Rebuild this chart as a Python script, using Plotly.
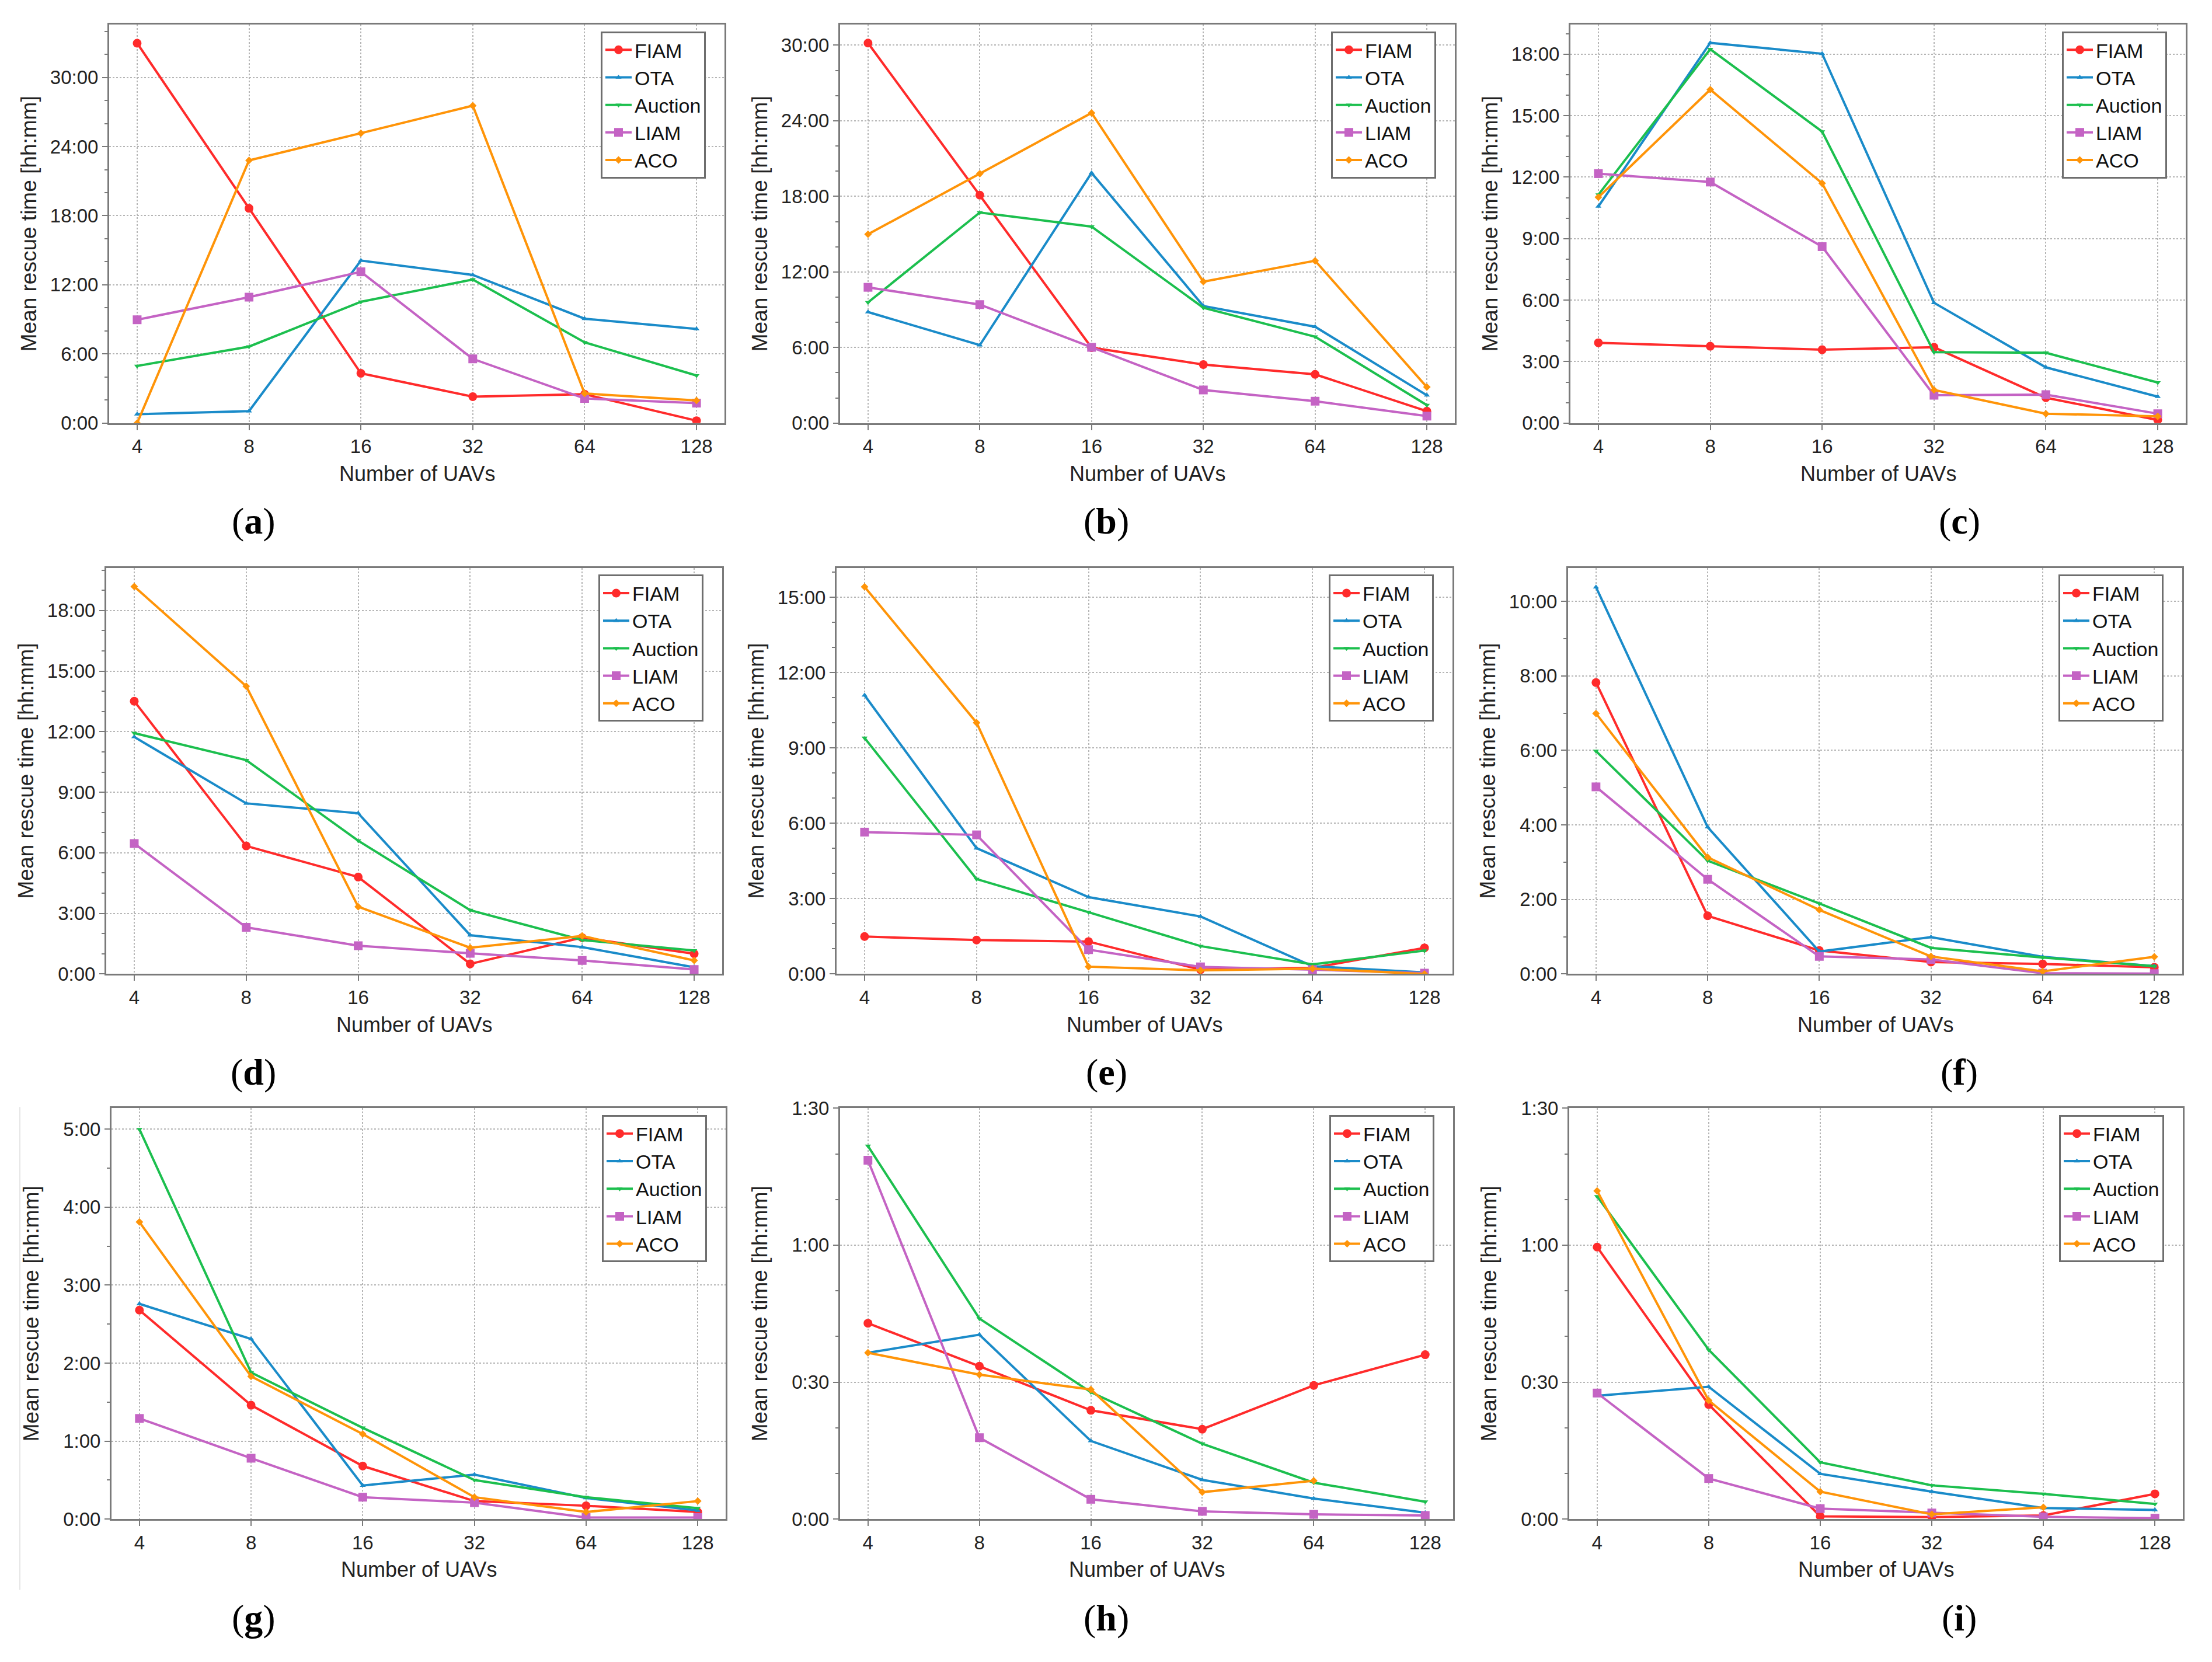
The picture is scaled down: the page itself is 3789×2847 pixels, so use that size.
import math
import plotly.graph_objects as go

# ---------------- data (hours) ----------------
uavs = [4, 8, 16, 32, 64, 128]
x_tick_labels = ["4", "8", "16", "32", "64", "128"]
methods = ["FIAM", "OTA", "Auction", "LIAM", "ACO"]
panel_letters = ["a", "b", "c", "d", "e", "f", "g", "h", "i"]

a_fiam = [32.97, 18.64, 4.32, 2.30, 2.51, 0.21]
a_ota = [0.77, 1.04, 14.11, 12.86, 9.06, 8.17]
a_auction = [4.96, 6.64, 10.53, 12.46, 7.01, 4.13]
a_liam = [8.97, 10.93, 13.13, 5.57, 2.14, 1.74]
a_aco = [0.0, 22.80, 25.16, 27.55, 2.57, 1.96]

b_fiam = [30.17, 18.10, 5.99, 4.65, 3.87, 0.95]
b_ota = [8.82, 6.19, 19.86, 9.30, 7.65, 2.21]
b_auction = [9.58, 16.72, 15.60, 9.16, 6.86, 1.43]
b_liam = [10.78, 9.41, 6.02, 2.63, 1.74, 0.56]
b_aco = [14.99, 19.80, 24.62, 11.23, 12.89, 2.86]

c_fiam = [3.92, 3.75, 3.58, 3.70, 1.24, 0.15]
c_ota = [10.57, 18.55, 18.02, 5.87, 2.72, 1.29]
c_auction = [11.14, 18.24, 14.22, 3.46, 3.43, 1.98]
c_liam = [12.17, 11.76, 8.61, 1.36, 1.39, 0.46]
c_aco = [11.02, 16.27, 11.70, 1.62, 0.46, 0.33]

d_fiam = [13.51, 6.34, 4.80, 0.50, 1.80, 1.00]
d_ota = [11.74, 8.45, 7.96, 1.92, 1.33, 0.33]
d_auction = [11.93, 10.59, 6.60, 3.16, 1.68, 1.16]
d_liam = [6.46, 2.31, 1.40, 1.02, 0.67, 0.22]
d_aco = [19.19, 14.25, 3.33, 1.30, 1.88, 0.67]

e_fiam = [1.49, 1.35, 1.29, 0.17, 0.24, 1.04]
e_ota = [11.10, 5.01, 3.06, 2.29, 0.31, 0.06]
e_auction = [9.40, 3.78, 2.46, 1.11, 0.38, 0.93]
e_liam = [5.65, 5.54, 0.97, 0.28, 0.17, 0.03]
e_aco = [15.42, 10.01, 0.29, 0.14, 0.21, 0.0]

f_fiam = [7.82, 1.56, 0.63, 0.32, 0.27, 0.18]
f_ota = [10.38, 3.94, 0.60, 0.99, 0.46, 0.21]
f_auction = [5.98, 3.04, 1.89, 0.70, 0.44, 0.21]
f_liam = [5.02, 2.54, 0.47, 0.39, 0.02, 0.01]
f_aco = [6.99, 3.13, 1.72, 0.47, 0.07, 0.46]

g_fiam = [2.68, 1.46, 0.68, 0.23, 0.17, 0.09]
g_ota = [2.76, 2.31, 0.43, 0.57, 0.27, 0.11]
g_auction = [5.00, 1.88, 1.17, 0.50, 0.28, 0.14]
g_liam = [1.29, 0.78, 0.28, 0.21, 0.02, 0.02]
g_aco = [3.81, 1.83, 1.09, 0.28, 0.09, 0.23]

h_fiam = [0.715, 0.558, 0.397, 0.328, 0.488, 0.600]
h_ota = [0.607, 0.673, 0.285, 0.143, 0.075, 0.023]
h_auction = [1.362, 0.732, 0.463, 0.275, 0.133, 0.063]
h_liam = [1.310, 0.297, 0.072, 0.028, 0.017, 0.013]
h_aco = [0.607, 0.527, 0.473, 0.098, 0.140, None]

i_fiam = [0.993, 0.418, 0.010, 0.007, 0.013, 0.092]
i_ota = [0.450, 0.483, 0.165, 0.100, 0.040, 0.033]
i_auction = [1.178, 0.618, 0.207, 0.123, 0.092, 0.055]
i_liam = [0.460, 0.148, 0.038, 0.022, 0.008, 0.003]
i_aco = [1.198, 0.433, 0.100, 0.017, 0.043, None]

# y-axis ticks and labels per panel
ticks_6h = [0, 6, 12, 18, 24, 30]
labels_6h = ["0:00", "6:00", "12:00", "18:00", "24:00", "30:00"]
ticks_3h_18 = [0, 3, 6, 9, 12, 15, 18]
labels_3h_18 = ["0:00", "3:00", "6:00", "9:00", "12:00", "15:00", "18:00"]
ticks_3h_15 = [0, 3, 6, 9, 12, 15]
labels_3h_15 = ["0:00", "3:00", "6:00", "9:00", "12:00", "15:00"]
ticks_2h = [0, 2, 4, 6, 8, 10]
labels_2h = ["0:00", "2:00", "4:00", "6:00", "8:00", "10:00"]
ticks_1h = [0, 1, 2, 3, 4, 5]
labels_1h = ["0:00", "1:00", "2:00", "3:00", "4:00", "5:00"]
ticks_30m = [0, 0.5, 1, 1.5]
labels_30m = ["0:00", "0:30", "1:00", "1:30"]

# ---------------- assemble ----------------
series = {
    "a": [a_fiam, a_ota, a_auction, a_liam, a_aco],
    "b": [b_fiam, b_ota, b_auction, b_liam, b_aco],
    "c": [c_fiam, c_ota, c_auction, c_liam, c_aco],
    "d": [d_fiam, d_ota, d_auction, d_liam, d_aco],
    "e": [e_fiam, e_ota, e_auction, e_liam, e_aco],
    "f": [f_fiam, f_ota, f_auction, f_liam, f_aco],
    "g": [g_fiam, g_ota, g_auction, g_liam, g_aco],
    "h": [h_fiam, h_ota, h_auction, h_liam, h_aco],
    "i": [i_fiam, i_ota, i_auction, i_liam, i_aco],
}
yticks = {
    "a": (ticks_6h, labels_6h), "b": (ticks_6h, labels_6h),
    "c": (ticks_3h_18, labels_3h_18), "d": (ticks_3h_18, labels_3h_18),
    "e": (ticks_3h_15, labels_3h_15), "f": (ticks_2h, labels_2h),
    "g": (ticks_1h, labels_1h), "h": (ticks_30m, labels_30m),
    "i": (ticks_30m, labels_30m),
}
ymax = {"a": 34.6, "b": 31.65, "c": 19.45, "d": 20.12, "e": 16.18,
        "f": 10.90, "g": 5.27, "h": 1.5, "i": 1.5}
yminor = {"a": 2, "b": 2, "c": 1, "d": 1, "e": 1, "f": 1, "g": 0.5,
          "h": 1 / 6, "i": 1 / 6}

colors = ["#ff2b2b", "#1a8bc9", "#1cbf4e", "#c463c4", "#ff9408"]
symbols = ["circle", "triangle-up", "triangle-down", "square", "diamond"]
msizes = [15, 9, 9, 15, 10]

W, H = 3789, 2847
# plot-area pixel boxes (left, right, top, bottom)
row_tb = [(16, 708), (959, 1664), (1897, 2610)]
col_lr = [[(179, 1233), (1431, 2484), (2682, 3736)],
          [(174, 1229), (1425, 2480), (2678, 3730)],
          [(183, 1235), (1431, 2481), (2680, 3731)]]
label_x = [426, 1887, 3348]
label_y = [878, 1834, 2782]

FONT = "Liberation Sans, Arial, sans-serif"
GRAY = "#7a7a7a"

fig = go.Figure()
annotations = []
layout_extra = {}

lo = math.log10(4) - 0.25 * math.log10(2)
hi = math.log10(128) + 0.25 * math.log10(2)

for k, p in enumerate(panel_letters):
    r, c = divmod(k, 3)
    left, right = col_lr[r][c]
    top, bottom = row_tb[r]
    xd = [left / W, right / W]
    yd = [1 - bottom / H, 1 - top / H]
    ax = "" if k == 0 else str(k + 1)
    leg = "legend" if k == 0 else "legend" + str(k + 1)

    for m, name in enumerate(methods):
        fig.add_trace(go.Scatter(
            x=uavs, y=series[p][m], name=name, mode="lines+markers",
            line=dict(color=colors[m], width=4),
            marker=dict(symbol=symbols[m], size=msizes[m], color=colors[m]),
            xaxis="x" + ax, yaxis="y" + ax, legend=leg, showlegend=True,
            connectgaps=False,
        ))

    tv, tt = yticks[p]
    layout_extra["xaxis" + ax] = dict(
        domain=xd, anchor="y" + ax, type="log", range=[lo, hi],
        tickmode="array", tickvals=uavs, ticktext=x_tick_labels,
        showline=True, linecolor=GRAY, linewidth=3, mirror=True,
        ticks="outside", ticklen=9, tickwidth=2, tickcolor=GRAY,
        showgrid=True, gridcolor="#b5b5b5", gridwidth=2, griddash="dot",
        zeroline=False, tickfont=dict(family=FONT, size=33, color="#222222"),
    )
    layout_extra["yaxis" + ax] = dict(
        domain=yd, anchor="x" + ax, range=[0, ymax[p]],
        tickmode="array", tickvals=tv, ticktext=tt,
        showline=True, linecolor=GRAY, linewidth=3, mirror=True,
        ticks="outside", ticklen=9, tickwidth=2, tickcolor=GRAY,
        minor=dict(tickmode="linear", tick0=0, dtick=yminor[p],
                   ticks="outside", ticklen=5, tickwidth=2,
                   tickcolor=GRAY, showgrid=False),
        showgrid=True, gridcolor="#b5b5b5", gridwidth=2, griddash="dot",
        zeroline=False, tickfont=dict(family=FONT, size=33, color="#222222"),
    )
    layout_extra[leg] = dict(
        x=(right - 32) / W, y=1 - (top + 12) / H,
        xanchor="right", yanchor="top", xref="paper", yref="paper",
        bgcolor="white", bordercolor="#6e6e6e", borderwidth=3,
        font=dict(family=FONT, size=34, color="#111111"),
        itemwidth=45, tracegroupgap=0,
    )

    # axis titles
    annotations.append(dict(
        x=(left - 138) / W, y=1 - (top + bottom) / 2 / H, xref="paper",
        yref="paper", text="Mean rescue time [hh:mm]", textangle=-90,
        showarrow=False, xanchor="center", yanchor="middle",
        font=dict(family=FONT, size=37, color="#222222"),
    ))
    annotations.append(dict(
        x=(left + right) / 2 / W, y=1 - (bottom + 88) / H, xref="paper",
        yref="paper", text="Number of UAVs", showarrow=False,
        xanchor="center", yanchor="middle",
        font=dict(family=FONT, size=36, color="#222222"),
    ))
    annotations.append(dict(
        x=label_x[c] / W, y=1 - label_y[r] / H, xref="paper", yref="paper",
        text="(<b>" + p + "</b>)", showarrow=False, xanchor="center",
        yanchor="middle",
        font=dict(family="Liberation Serif, Times New Roman, serif",
                  size=64, color="#000000"),
    ))

fig.update_layout(
    width=W, height=H, margin=dict(l=0, r=0, t=0, b=0),
    paper_bgcolor="white", plot_bgcolor="white",
    annotations=annotations,
    shapes=[dict(type="line", xref="paper", yref="paper",
                 x0=26 / W, x1=26 / W, y0=1 - 1895 / H, y1=1 - 2733 / H,
                 line=dict(color="#e6e6e6", width=2))],
    **layout_extra,
)

fig.write_html("out.html")
